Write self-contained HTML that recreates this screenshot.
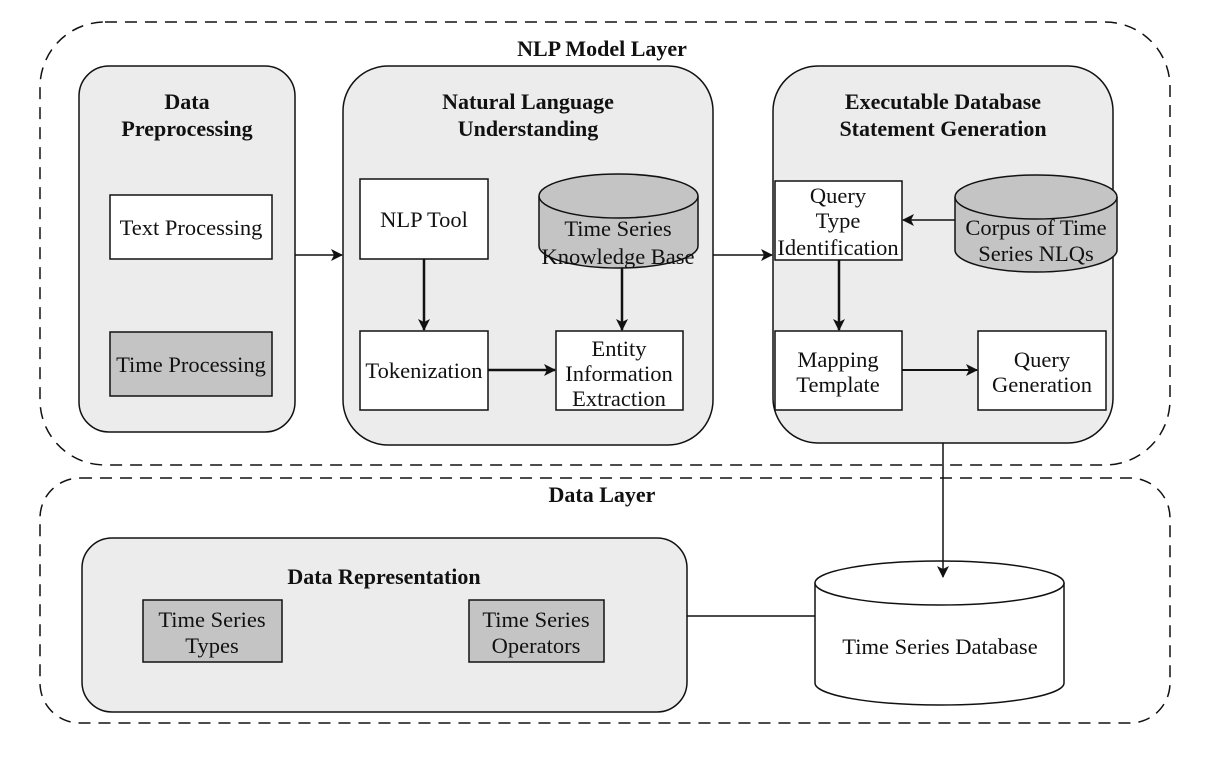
<!DOCTYPE html>
<html><head><meta charset="utf-8"><style>
html,body{margin:0;padding:0;background:#fff}
svg{display:block}
text{font-family:"Liberation Serif",serif;font-size:22.5px;fill:#111;text-anchor:middle}
.b{font-weight:bold;font-size:22px}
</style></head><body>
<svg width="1224" height="757" viewBox="0 0 1224 757" xmlns="http://www.w3.org/2000/svg">
<defs><marker id="a" markerWidth="12" markerHeight="12" refX="11" refY="6" orient="auto" markerUnits="userSpaceOnUse"><path d="M0,0 L12,6 L0,12 L3,6 z" fill="#111"/></marker></defs>
<g fill="none" stroke="#111" stroke-width="1.5" stroke-dasharray="12,8">
<rect x="40" y="22" width="1130" height="443" rx="65"/>
<rect x="40" y="478" width="1130" height="245" rx="40"/>
</g>
<text class="b" x="602" y="56">NLP Model Layer</text>
<text class="b" x="602" y="502">Data Layer</text>
<g stroke="#111" stroke-width="1.5">
<rect x="79" y="66" width="216" height="366" rx="30" fill="#ececec"/>
<rect x="343" y="66" width="370" height="379" rx="45" fill="#ececec"/>
<rect x="773" y="66" width="340" height="377" rx="45" fill="#ececec"/>
<rect x="82" y="538" width="605" height="174" rx="30" fill="#ececec"/>
<rect x="110" y="195" width="162" height="64" fill="#fff"/>
<rect x="110" y="332" width="162" height="64" fill="#c4c4c4"/>
<rect x="360" y="179" width="128" height="80" fill="#fff"/>
<rect x="360" y="331" width="128" height="79" fill="#fff"/>
<rect x="556" y="331" width="127" height="79" fill="#fff"/>
<rect x="775" y="181" width="127" height="79" fill="#fff"/>
<rect x="775" y="331" width="127" height="79" fill="#fff"/>
<rect x="978" y="331" width="128" height="79" fill="#fff"/>
<rect x="143" y="600" width="139" height="62" fill="#c4c4c4"/>
<rect x="469" y="600" width="135" height="62" fill="#c4c4c4"/>
<path d="M539,196 L539,246 A79.5,22 0 0 0 698,246 L698,196" fill="#c4c4c4"/>
<ellipse cx="618.5" cy="196" rx="79.5" ry="22" fill="#c4c4c4"/>
<path d="M955,197 L955,250 A81,22 0 0 0 1117,250 L1117,197" fill="#c4c4c4"/>
<ellipse cx="1036" cy="197" rx="81" ry="22" fill="#c4c4c4"/>
<path d="M815,583 L815,683 A124.5,22 0 0 0 1064,683 L1064,583" fill="#fff"/>
<ellipse cx="939.5" cy="583" rx="124.5" ry="22" fill="#fff"/>
</g>
<g stroke="#111" fill="none">
<line x1="295" y1="255" x2="342" y2="255" stroke-width="1.5" marker-end="url(#a)"/>
<line x1="713" y1="255" x2="772" y2="255" stroke-width="1.5" marker-end="url(#a)"/>
<line x1="424" y1="259" x2="424" y2="330" stroke-width="2.5" marker-end="url(#a)"/>
<line x1="622" y1="268" x2="622" y2="330" stroke-width="2.5" marker-end="url(#a)"/>
<line x1="488" y1="370" x2="555" y2="370" stroke-width="2.5" marker-end="url(#a)"/>
<line x1="955" y1="220" x2="903" y2="220" stroke-width="1.5" marker-end="url(#a)"/>
<line x1="839" y1="260" x2="839" y2="330" stroke-width="2.5" marker-end="url(#a)"/>
<line x1="902" y1="370" x2="977" y2="370" stroke-width="2" marker-end="url(#a)"/>
<line x1="943" y1="443" x2="943" y2="577" stroke-width="1.5" marker-end="url(#a)"/>
<line x1="687" y1="616" x2="815" y2="616" stroke-width="1.5"/>
</g>
<text class="b" x="187" y="109">Data</text>
<text class="b" x="187" y="136">Preprocessing</text>
<text class="b" x="528" y="109">Natural Language</text>
<text class="b" x="528" y="136">Understanding</text>
<text class="b" x="943" y="109">Executable Database</text>
<text class="b" x="943" y="136">Statement Generation</text>
<text class="b" x="384" y="584">Data Representation</text>
<text x="191" y="235">Text Processing</text>
<text x="191" y="372">Time Processing</text>
<text x="424" y="227">NLP Tool</text>
<text x="424" y="378">Tokenization</text>
<text x="618" y="236">Time Series</text>
<text x="618" y="264">Knowledge Base</text>
<text x="619" y="356">Entity</text>
<text x="619" y="381">Information</text>
<text x="619" y="406">Extraction</text>
<text x="838" y="203">Query</text>
<text x="838" y="228">Type</text>
<text x="838" y="255">Identification</text>
<text x="1036" y="235">Corpus of Time</text>
<text x="1036" y="261">Series NLQs</text>
<text x="838" y="367">Mapping</text>
<text x="838" y="392">Template</text>
<text x="1042" y="367">Query</text>
<text x="1042" y="392">Generation</text>
<text x="212" y="627">Time Series</text>
<text x="212" y="653">Types</text>
<text x="536" y="627">Time Series</text>
<text x="536" y="653">Operators</text>
<text x="940" y="654">Time Series Database</text>
</svg>
</body></html>
